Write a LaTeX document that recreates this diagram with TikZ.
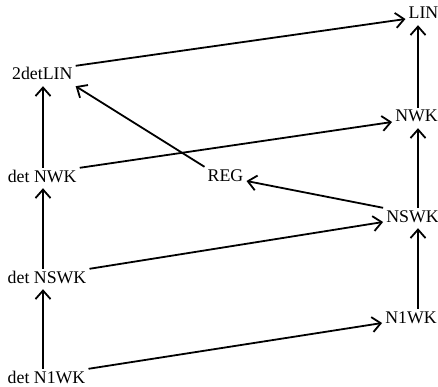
\documentclass[tikz,border=0pt]{standalone}
\usepackage{fontspec}
\setmainfont{Liberation Serif}
\usetikzlibrary{arrows.meta}

\begin{document}
\begin{tikzpicture}[x=1pt, y=1pt,
    class/.style={anchor=base, inner xsep=3pt, inner ysep=2pt, text height=12pt, text depth=4pt, font=\fontsize{17.8}{20}\selectfont},
    incl/.style={line width=1.8pt, -{Straight Barb[length=8.5pt, width=15pt]}}]
    % Define picture size
    \def\picWidth{438}
    \def\picHeight{386}
    \useasboundingbox (0,0) rectangle (\picWidth,\picHeight);

    % Define the columns of the vertical arrows
    \coordinate (leftCol) at (43,0);
    \coordinate (rightCol) at (418,0);

    % Deterministic classes
    \node[class] (detLin) at (42.3,306) {2detLIN};
    \node[class] (detNwk) at (42.2,204) {det NWK};
    \node[class] (detNswk) at (47,103) {det NSWK};
    \node[class] (detNOneWk) at (46.5,3) {det N1WK};

    % Nondeterministic classes
    \node[class] (lin) at (423.5,367) {LIN};
    \node[class] (nwk) at (416.5,264) {NWK};
    \node[class] (nswk) at (412.5,164) {NSWK};
    \node[class] (nOneWk) at (411,63) {N1WK};
    \node[class] (reg) at (225.5,205) {REG};

    % Draw vertical inclusions
    \draw[incl] (detNOneWk.north -| leftCol) -- (detNswk.south -| leftCol);
    \draw[incl] (detNswk.north -| leftCol) -- (detNwk.south -| leftCol);
    \draw[incl] (detNwk.north -| leftCol) -- (detLin.south -| leftCol);
    \draw[incl] (nOneWk.north -| rightCol) -- (nswk.south -| rightCol);
    \draw[incl] (nswk.north -| rightCol) -- (nwk.south -| rightCol);
    \draw[incl] (nwk.north -| rightCol) -- (lin.south -| rightCol);

    % Draw slanted inclusions
    \draw[incl] (detLin.north east) -- (lin.base west);
    \draw[incl] (detNwk.north east) -- (nwk.base west);
    \draw[incl] (detNswk.north east) -- (nswk.base west);
    \draw[incl] (detNOneWk.north east) -- (nOneWk.base west);
    \draw[incl] (nswk.north west) -- (reg.base east);
    \draw[incl] (reg.north west) -- (detLin.south east);

\end{tikzpicture}
\end{document}
